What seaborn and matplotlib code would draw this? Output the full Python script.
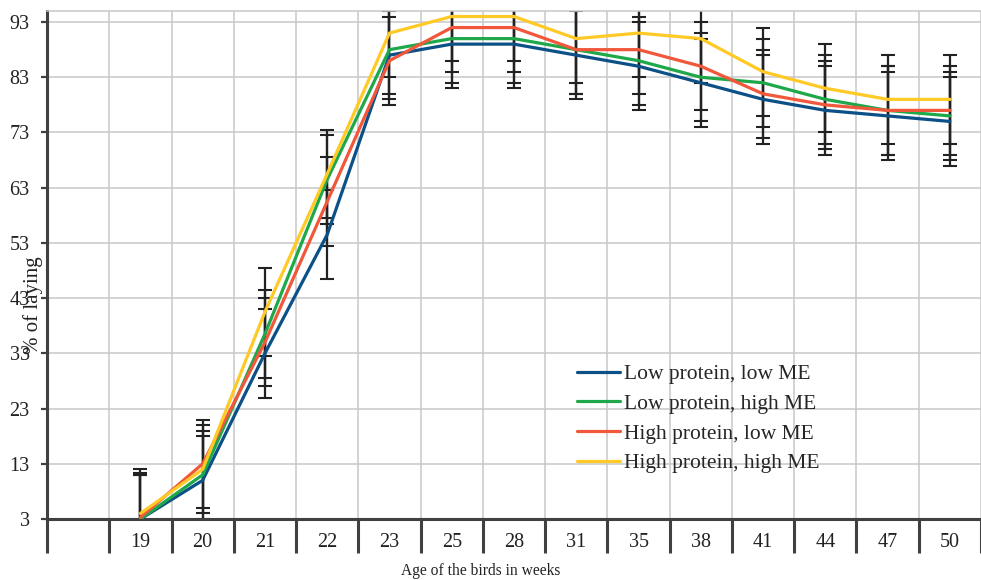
import numpy as np
import pandas as pd
import matplotlib
matplotlib.use('Agg')
import matplotlib.pyplot as plt
import seaborn as sns

# ---------------- data ----------------
weeks = ['19', '20', '21', '22', '23', '25', '28', '31', '35', '38', '41', '44', '47', '50']
low_p_low_me = [3, 10, 33, 54.5, 87, 89, 89, 87, 85, 82, 79, 77, 76, 75]
low_p_high_me = [3, 11, 36.5, 64.5, 88, 90, 90, 88, 86, 83, 82, 79, 77, 76]
high_p_low_me = [3.3, 13, 35, 60.5, 86, 92, 92, 88, 88, 85, 80, 78, 77, 77]
high_p_high_me = [4, 12, 40.5, 65.5, 91, 94, 94, 90, 91, 90, 84, 81, 79, 79]
sem = [8, 8, 8, 8, 8, 8, 8, 8, 8, 8, 8, 8, 8, 8]
y_ticks = [3, 13, 23, 33, 43, 53, 63, 73, 83, 93]

series = {
    'Low protein, low ME': low_p_low_me,
    'Low protein, high ME': low_p_high_me,
    'High protein, low ME': high_p_low_me,
    'High protein, high ME': high_p_high_me,
}
colors = ['#0b5087', '#1fa84a', '#f1573a', '#ffc926']

# long table, first category of the axis is left empty
pos = np.arange(1, len(weeks) + 1)
rows = []
for name, vals in series.items():
    for p, w, v, e in zip(pos, weeks, vals, sem):
        rows.append({'pos': p, 'week': w, 'laying': v, 'err': e, 'diet': name})
df = pd.DataFrame(rows)

sns.set_style('white')
plt.rcParams['font.family'] = ['Liberation Serif', 'DejaVu Serif']

fig = plt.figure(figsize=(9.81, 5.8), dpi=100)
ax = fig.add_axes([47 / 981, 61 / 580, 934 / 981, 508 / 580])

# error bars first so the lines sit on top
for name, vals in series.items():
    sub = df[df['diet'] == name]
    ax.errorbar(sub['pos'], sub['laying'], yerr=sub['err'], fmt='none',
                ecolor='#222222', elinewidth=1.6, capsize=4.7, capthick=1.5, zorder=2)

sns.lineplot(data=df, x='pos', y='laying', hue='diet', palette=colors,
             linewidth=2.3, ax=ax, zorder=3, legend=True)

ax.set_xlim(-0.5, 14.41)
ax.set_ylim(3, 95)

# category boundaries carry the long ticks and grid, labels sit in the middle
ax.set_xticks(np.arange(-0.5, 15, 1.0))
ax.set_xticklabels([])
ax.set_xticks(pos, minor=True)
ax.set_xticklabels(weeks, minor=True, fontsize=14.5, color='#222222')
ax.tick_params(axis='x', which='major', bottom=True, length=24.5, width=2.2,
               color='#404040', direction='out')
ax.tick_params(axis='x', which='minor', bottom=True, length=0, pad=10)

ax.set_yticks(y_ticks)
ax.set_yticklabels([str(t) for t in y_ticks], fontsize=14.5, color='#222222')
ax.tick_params(axis='y', left=True, length=4.5, width=1.6, color='#404040', pad=8, direction='out')

ax.set_axisbelow(True)
ax.grid(True, which='major', color='#c8c8c8', linewidth=1.1)

for s in ['left', 'bottom']:
    ax.spines[s].set_color('#404040')
    ax.spines[s].set_linewidth(2.2)
ax.spines['top'].set_color('#c8c8c8')
ax.spines['top'].set_linewidth(1.1)
ax.spines['right'].set_visible(False)

ax.set_xlabel('Age of the birds in weeks', fontsize=11.2, color='#222222')
ax.xaxis.set_label_coords(0.464, -0.086)
ax.set_ylabel('% of laying', fontsize=15, color='#222222')
ax.yaxis.set_label_coords(-0.004, 0.421)

handles, labels = ax.get_legend_handles_labels()
leg = ax.legend(handles, labels, loc='upper left', bbox_to_anchor=(0.567, 0.305),
                frameon=False, fontsize=15.5, handlelength=2.0, handletextpad=0.2,
                labelspacing=0.45, borderpad=0, borderaxespad=0)
for line in leg.get_lines():
    line.set_linewidth(2.3)

fig.savefig('out.png', dpi=100)
